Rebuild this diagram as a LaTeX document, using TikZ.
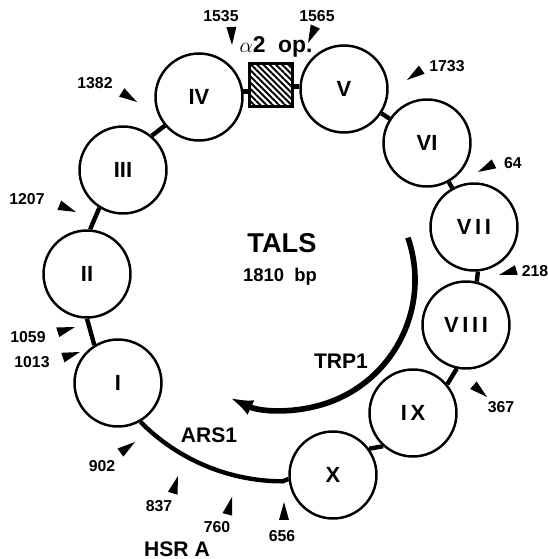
\documentclass[tikz,border=0pt]{standalone}
\usepackage{fontspec}
\setmainfont{Liberation Sans}
\usetikzlibrary{arrows.meta}
\usetikzlibrary{patterns.meta}

\begin{document}
\begin{tikzpicture}[x=0.02cm,y=0.02cm,
  nuc/.style={circle,draw,line width=1.4pt,minimum size=1.74cm,inner sep=0pt,
    font=\fontsize{12.5}{12.5}\selectfont\bfseries},
  opbox/.style={rectangle,draw,line width=1.3pt,minimum size=0.86cm,
    pattern={Lines[angle=-45,distance=2.5pt,line width=1.1pt]}},
  link/.style={line width=2.5pt},
  gene/.style={line width=3.2pt,-{Latex[length=0.46cm,width=0.32cm]}},
  num/.style={inner sep=0pt,font=\fontsize{9}{9}\selectfont\bfseries},
  lbl/.style={inner sep=0pt,font=\fontsize{12}{12}\selectfont\bfseries},
  pointer/.pic={\fill (0,0) -- (-18,5) -- (-18,-5) -- cycle;}
]
  \useasboundingbox (0,0) rectangle (548,559);

  \node[nuc] (I)    at (118,176) {I};
  \node[nuc] (II)   at (87,285)  {II};
  \node[nuc] (III)  at (123,389) {III};
  \node[nuc] (IV)   at (199,462) {IV};
  \node[opbox] (op) at (271,474) {};
  \node[nuc] (V)    at (344,470) {V};
  \node[nuc] (VI)   at (427,416) {VI};
  \node[nuc] (VII)  at (474,332) {V\,I\,I};
  \node[nuc] (VIII) at (466,234) {V\,I\,I\,I};
  \node[nuc] (IX)   at (413,146) {I\,X};
  \node[nuc] (X)    at (333,84)  {X};

  \draw[link] (I.122) -- (II.270);
  \draw[link] (II.86) -- (III.238);
  \draw[link] (III.50) -- (IV.220);
  \draw[link] (IV.7) -- (IV.7 -| op.west);
  \draw[link] (V.177 -| op.east) -- (V.177);
  \draw[link] (V) -- (VI);
  \draw[link] (VI) -- (VII);
  \draw[link] (VII.-85) -- (VIII.76);
  \draw[link] (VIII.258) -- (IX.40);
  \draw[link] (IX.228) -- (X.36);
  \draw[link] (I.-60) arc[start angle=224.6,end angle=270,radius=200] -- (X.185);

  \coordinate (ctr) at (285,279);
  \draw[gene] ([shift={(19:130)}]ctr) arc[start angle=19,end angle=-115,radius=130];

  \node[font=\fontsize{15.5}{15.5}\selectfont\bfseries] (tals) at (282,316) {TALS};
  \node[font=\fontsize{10.5}{10.5}\selectfont\bfseries] (size) at (280,282) {1810\ \ bp};
  \node[lbl] (trp) at (341,198) {TRP1};
  \node[lbl] (ars) at (209,124) {ARS1};
  \node[lbl] (hsr) at (177,10) {HSR A};
  \node[lbl,font=\fontsize{13}{13}\selectfont\bfseries] (alpha) at (276,512) {$\alpha$2\ \ op.};

  \node[num] (n1535) at (221,543) {1535};
  \node[num] (n1565) at (317,543) {1565};
  \node[num] (n1733) at (447,493) {1733};
  \node[num] (n64)   at (513,396) {64};
  \node[num] (n218)  at (535,288) {218};
  \node[num] (n367)  at (501,152) {367};
  \node[num] (n656)  at (282,23)  {656};
  \node[num] (n760)  at (217,32)  {760};
  \node[num] (n837)  at (159,53)  {837};
  \node[num] (n902)  at (102,93)  {902};
  \node[num] (n1013) at (32,197)  {1013};
  \node[num] (n1059) at (28,222)  {1059};
  \node[num] (n1207) at (27,360)  {1207};
  \node[num] (n1382) at (95,476)  {1382};

  \pic[rotate=-88]  at (232,514) {pointer};
  \pic[rotate=-114] at (308,516) {pointer};
  \pic[rotate=215]  at (407,479) {pointer};
  \pic[rotate=207]  at (478,387) {pointer};
  \pic[rotate=196]  at (499,284) {pointer};
  \pic[rotate=-41]  at (487,162) {pointer};
  \pic[rotate=90]   at (284,57)  {pointer};
  \pic[rotate=75]   at (232,62)  {pointer};
  \pic[rotate=73]   at (178,83)  {pointer};
  \pic[rotate=36]   at (135,117) {pointer};
  \pic[rotate=18]   at (80,207)  {pointer};
  \pic[rotate=17]   at (75,232)  {pointer};
  \pic[rotate=-22]  at (76,347)  {pointer};
  \pic[rotate=-32]  at (137,457) {pointer};
\end{tikzpicture}
\end{document}
